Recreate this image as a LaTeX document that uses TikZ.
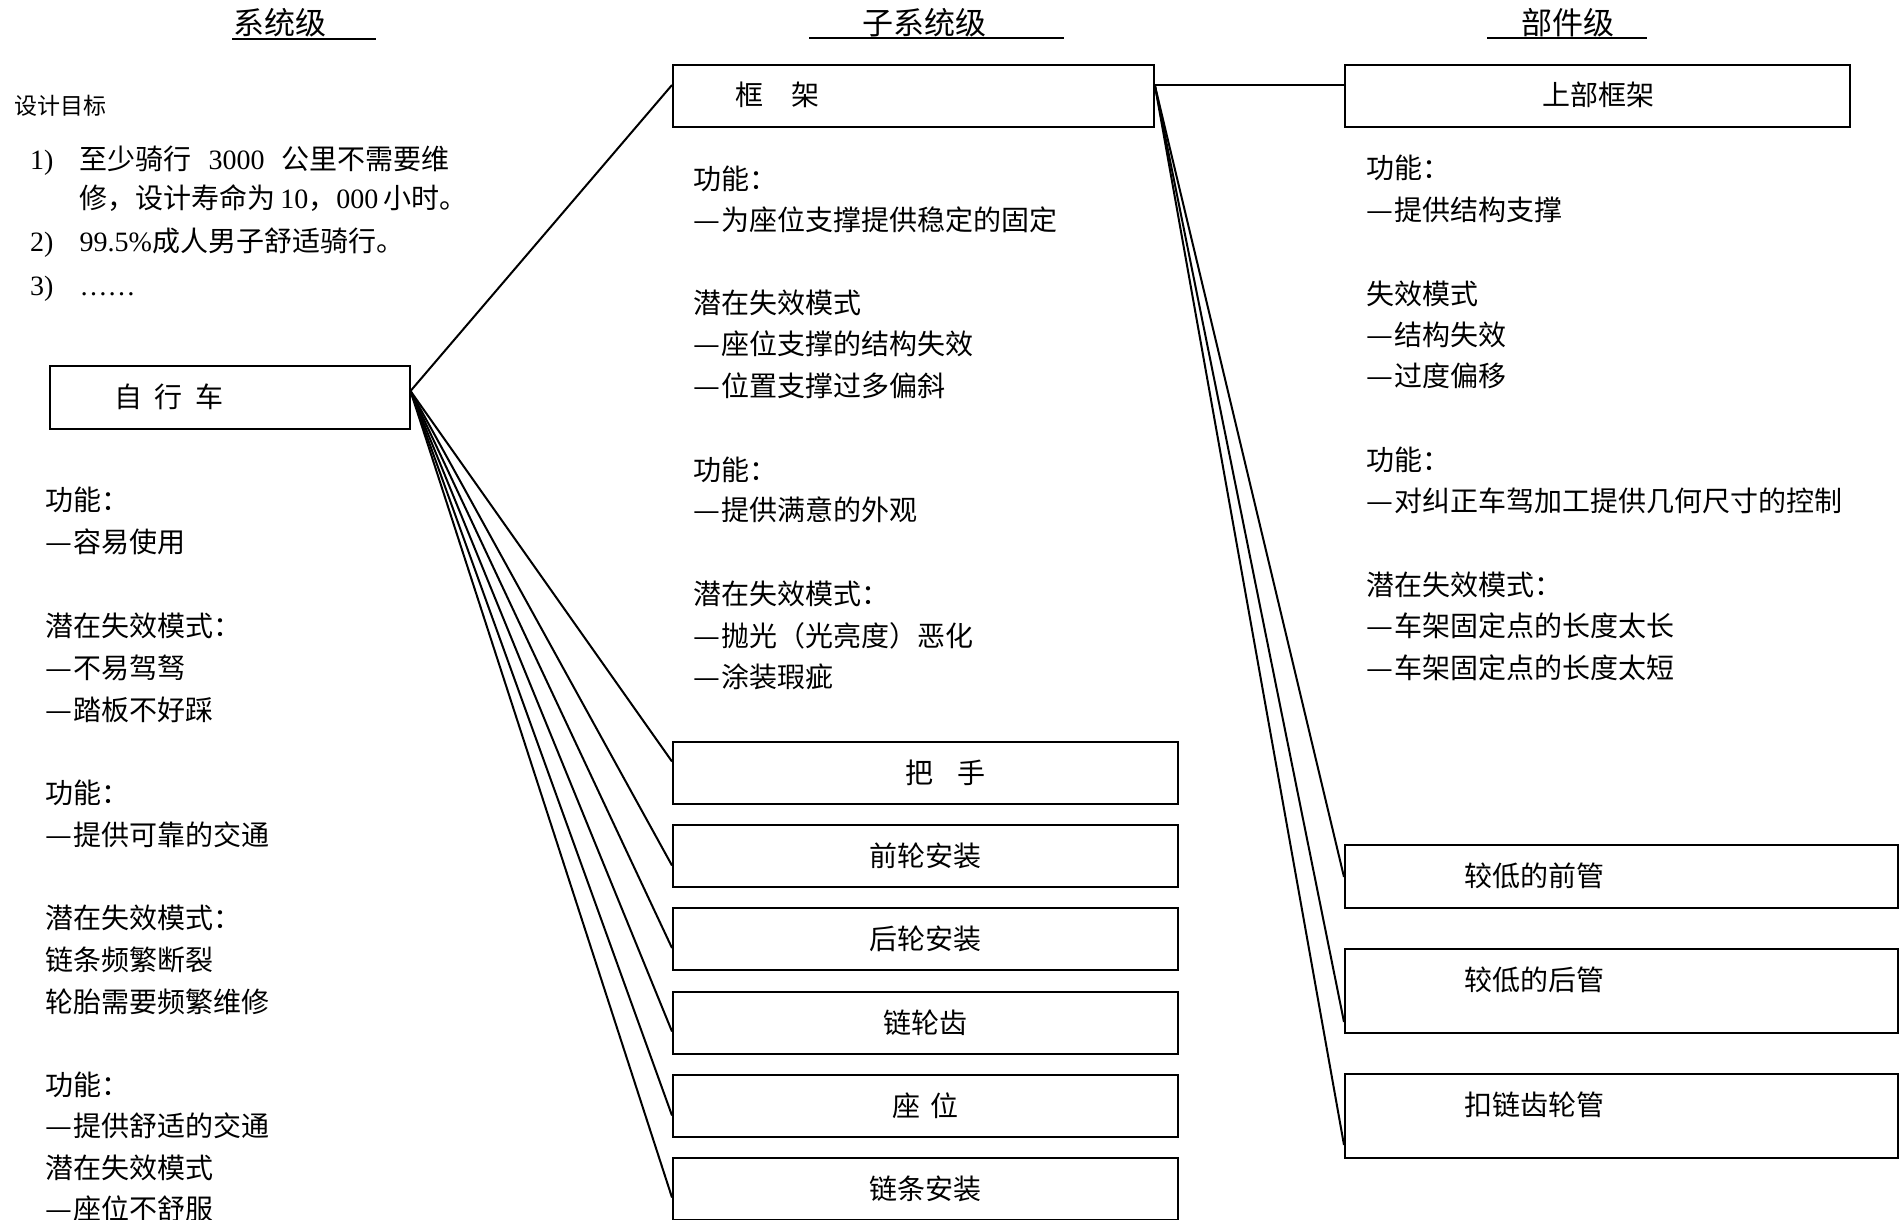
\documentclass[tikz,border=0pt]{standalone}
\usepackage{fontspec}
\setmainfont{Noto Sans CJK SC}
\newfontfamily\tnr{Liberation Serif}
\usetikzlibrary{calc}
\newcommand\dsh{\makebox[1em][l]{\resizebox{0.96em}{\height}{—}}}
\tikzset{
  box/.style={draw, line width=2pt, rectangle, inner sep=0pt, anchor=north west,
              font=\fontsize{28}{28}\selectfont},
  txt/.style={anchor=west, inner sep=0pt, font=\fontsize{28}{28}\selectfont,
              text height=24.6pt, text depth=3.4pt},
  ttl/.style={anchor=west, inner sep=0pt, font=\fontsize{31}{31}\selectfont,
              text height=27.3pt, text depth=3.7pt},
  small/.style={anchor=west, inner sep=0pt, font=\fontsize{23}{23}\selectfont,
              text height=20.2pt, text depth=2.8pt},
  conn/.style={line width=2pt},
  uline/.style={line width=2pt},
}
\begin{document}
\begin{tikzpicture}[x=1pt, y=-1pt]
\path[fill=white, use as bounding box] (0,0) rectangle (1904,1219);

% ---------- titles ----------
\node[ttl] (t1) at (233,23) {系统级};
\node[ttl] (t2) at (862,23) {子系统级};
\node[ttl] (t3) at (1521,23) {部件级};
\draw[uline] (232,39) -- (376,39);
\draw[uline] (809,38) -- (1064,38);
\draw[uline] (1487,38) -- (1647,38);

% ---------- design goals ----------
\node[small] (goal) at (14,106) {设计目标};
\node[txt] (n1) at (30,159) {\tnr 1)};
\node[txt] (g1) at (79.5,159) {至少骑行\hspace{17pt}{\tnr 3000}\hspace{17pt}公里不需要维};
\node[txt] (g1b) at (79.5,198) {修，设计寿命为{\tnr\,10}，{\tnr 000\,}小时。};
\node[txt] (n2) at (30,241) {\tnr 2)};
\node[txt] (g2) at (79.5,241) {{\tnr 99.5\%}成人男子舒适骑行。};
\node[txt] (n3) at (30,285) {\tnr 3)};
\node[txt] (g3) at (79.5,285) {\tnr ……};

% ---------- system level ----------
\node[box, minimum width=360pt, minimum height=63pt] (bike) at (48.5,365) {};
\node[txt] (bikeT) at (114,396.5) {自\hspace{12.5pt}行\hspace{12.5pt}车};

\foreach \y/\t [count=\i] in {
  500/功能：, 542/\dsh 容易使用,
  626/潜在失效模式：, 668/\dsh 不易驾驽, 710/\dsh 踏板不好踩,
  793/功能：, 835/\dsh 提供可靠的交通,
  918/潜在失效模式：, 960/链条频繁断裂, 1002/轮胎需要频繁维修,
  1085/功能：, 1126/\dsh 提供舒适的交通,
  1168/潜在失效模式, 1209/\dsh 座位不舒服}
  \node[txt] (sys\i) at (45,\y) {\t};

% ---------- subsystem level ----------
\node[box, minimum width=481pt, minimum height=62pt] (frame) at (672,64) {};
\node[txt] (frameT) at (735,95) {框　架};

\foreach \y/\t [count=\i] in {
  179/功能：, 220/\dsh 为座位支撑提供稳定的固定,
  303/潜在失效模式, 344/\dsh 座位支撑的结构失效, 386/\dsh 位置支撑过多偏斜,
  470/功能：, 510/\dsh 提供满意的外观,
  594/潜在失效模式：, 636/\dsh 抛光（光亮度）恶化, 677/\dsh 涂装瑕疵}
  \node[txt] (sub\i) at (693,\y) {\t};

\node[box, minimum width=505pt, minimum height=62pt] (handle) at (672,740.5) {\hspace*{40pt}把\hspace{25pt}手};
\node[box, minimum width=505pt, minimum height=62pt] (fwheel) at (672,823.5) {前轮安装};
\node[box, minimum width=505pt, minimum height=62pt] (rwheel) at (672,907) {后轮安装};
\node[box, minimum width=505pt, minimum height=62pt] (sprocket) at (672,990.5) {链轮齿};
\node[box, minimum width=505pt, minimum height=62pt] (seat) at (672,1073.5) {座\hspace{11pt}位};
\node[box, minimum width=505pt, minimum height=62pt] (chain) at (672,1156.5) {链条安装};

% ---------- component level ----------
\node[box, minimum width=505pt, minimum height=62pt] (upper) at (1344,64) {};
\node[txt] (upperT) at (1542,95) {上部框架};

\foreach \y/\t [count=\i] in {
  168/功能：, 210/\dsh 提供结构支撑,
  294/失效模式, 335/\dsh 结构失效, 376/\dsh 过度偏移,
  460/功能：, 501/\dsh 对纠正车驾加工提供几何尺寸的控制,
  585/潜在失效模式：, 626/\dsh 车架固定点的长度太长, 668/\dsh 车架固定点的长度太短}
  \node[txt] (comp\i) at (1366,\y) {\t};

\node[box, minimum width=553pt, minimum height=63pt] (lfront) at (1344,844) {};
\node[txt] (lfrontT) at (1464,876) {较低的前管};
\node[box, minimum width=553pt, minimum height=84pt] (lrear) at (1344,948) {};
\node[txt] (lrearT) at (1464,980) {较低的后管};
\node[box, minimum width=553pt, minimum height=84pt] (stay) at (1344,1073) {};
\node[txt] (stayT) at (1464,1105) {扣链齿轮管};

% ---------- connectors ----------
\coordinate (bo) at ($(bike.north east)+(0,26)$);
\draw[conn] (bo) -- ($(frame.north west)+(0,21)$);
\draw[conn] (bo) -- ($(handle.north west)+(0,21)$);
\draw[conn] (bo) -- ($(fwheel.north west)+(0,42)$);
\draw[conn] (bo) -- ($(rwheel.north west)+(0,41)$);
\draw[conn] (bo) -- ($(sprocket.north west)+(0,41)$);
\draw[conn] (bo) -- ($(seat.north west)+(0,42)$);
\draw[conn] (bo) -- ($(chain.north west)+(0,41)$);

\coordinate (fo) at ($(frame.north east)+(0,22)$);
\draw[conn] ($(frame.north east)+(0,21)$) -- ($(upper.north west)+(0,21)$);
\draw[conn] (fo) -- ($(lfront.north west)+(0,33)$);
\draw[conn] (fo) -- ($(lrear.north west)+(0,74)$);
\draw[conn] (fo) -- ($(stay.north west)+(0,72)$);
\end{tikzpicture}
\end{document}
